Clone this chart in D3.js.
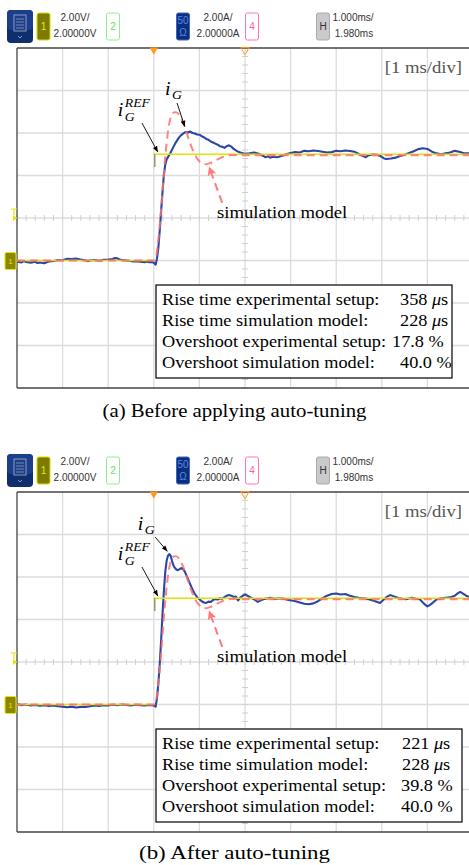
<!DOCTYPE html>
<html>
<head>
<meta charset="utf-8">
<script src="https://cdn.jsdelivr.net/npm/d3@7"></script>
<style>
  body { margin: 0; background: #fff; }
  svg { display: block; }
  text { font-family: "Liberation Serif", "Times New Roman", serif; }
  .hdr { font-family: "Liberation Sans", Arial, sans-serif; font-size: 10px; fill: #333; }
</style>
</head>
<body>
<svg id="chart" width="469" height="865"></svg>
<script>
// scope settings: 1 ms/div, 2 A/div, 10 x 8 divisions
const timeTicks = d3.range(-3, 8, 1);      // ms
const currentTicks = d3.range(-6, 11, 2);  // A

// reference current i_G^REF (step 0 -> 5 A at t = 0)
const refLow = [[-3, 0], [0, 0]];
const refHigh = [[0, 5], [7, 5]];

// simulation model response (same in both panels)
const simModel = [[-3, 0], [0, 0], [0.04, 0.1], [0.08, 0.6], [0.12, 1.4], [0.16, 2.4], [0.2, 3.5],
  [0.24, 4.6], [0.28, 5.5], [0.32, 6.2], [0.36, 6.65], [0.4, 6.88], [0.45, 6.98], [0.5, 6.97],
  [0.55, 6.88], [0.6, 6.7], [0.65, 6.45], [0.7, 6.15], [0.75, 5.82], [0.8, 5.5], [0.85, 5.22],
  [0.9, 4.99], [0.95, 4.8], [1.0, 4.67], [1.05, 4.58], [1.1, 4.54], [1.15, 4.53], [1.2, 4.56],
  [1.3, 4.64], [1.4, 4.76], [1.5, 4.86], [1.6, 4.93], [1.7, 4.97], [1.8, 4.96], [2.0, 4.95], [7, 4.95]];

// measured i_G before auto-tuning
const measuredBefore = [[-3.0, -0.05], [-2.9, -0.09], [-2.85, -0.03], [-2.8, -0.07], [-2.7, -0.1],
  [-2.6, -0.06], [-2.55, -0.12], [-2.5, -0.09], [-2.4, -0.13], [-2.35, -0.08], [-2.3, -0.05],
  [-2.2, -0.02], [-2.1, 0.02], [-2.0, 0.01], [-1.95, 0.05], [-1.9, 0.08], [-1.8, 0.07], [-1.7, 0.09],
  [-1.6, 0.04], [-1.5, 0.01], [-1.45, -0.03], [-1.4, 0.0], [-1.3, 0.02], [-1.2, -0.01], [-1.1, 0.03],
  [-1.0, 0.04], [-0.9, 0.07], [-0.85, 0.12], [-0.8, 0.1], [-0.75, 0.05], [-0.7, 0.03], [-0.6, 0.0],
  [-0.5, -0.02], [-0.45, -0.05], [-0.4, -0.03], [-0.3, -0.06], [-0.2, -0.08], [-0.15, -0.05],
  [-0.1, -0.08], [-0.05, -0.07], [0.0, -0.1], [0.04, -0.2], [0.07, 0.1], [0.1, 0.6], [0.13, 1.4],
  [0.16, 2.3], [0.19, 3.2], [0.22, 4.0], [0.25, 4.5], [0.28, 4.75], [0.32, 4.9], [0.36, 5.05],
  [0.42, 5.3], [0.48, 5.55], [0.55, 5.78], [0.6, 5.9], [0.65, 5.98], [0.7, 6.05], [0.75, 6.02],
  [0.8, 6.07], [0.85, 6.0], [0.9, 5.98], [0.95, 5.93], [1.0, 5.92], [1.05, 5.85], [1.1, 5.8],
  [1.15, 5.72], [1.2, 5.68], [1.25, 5.6], [1.3, 5.55], [1.35, 5.5], [1.4, 5.45], [1.45, 5.38],
  [1.5, 5.35], [1.55, 5.3], [1.6, 5.38], [1.65, 5.42], [1.7, 5.36], [1.75, 5.25], [1.8, 5.18],
  [1.85, 5.12], [1.9, 5.08], [1.95, 5.05], [2.0, 5.02], [2.1, 5.04], [2.2, 5.08], [2.3, 5.02],
  [2.4, 4.92], [2.45, 4.86], [2.5, 4.9], [2.55, 4.84], [2.6, 4.88], [2.7, 4.86], [2.8, 4.92],
  [2.9, 5.0], [3.0, 5.06], [3.1, 5.1], [3.2, 5.08], [3.3, 5.16], [3.4, 5.14], [3.5, 5.18],
  [3.6, 5.15], [3.7, 5.12], [3.8, 5.08], [3.9, 5.1], [4.0, 5.16], [4.1, 5.14], [4.2, 5.18],
  [4.3, 5.15], [4.4, 5.12], [4.5, 5.0], [4.6, 4.9], [4.65, 4.86], [4.7, 4.94], [4.8, 5.0],
  [4.9, 4.98], [5.0, 4.88], [5.05, 4.8], [5.1, 4.78], [5.2, 4.8], [5.3, 4.84], [5.4, 4.92],
  [5.5, 4.98], [5.6, 5.06], [5.7, 5.14], [5.8, 5.24], [5.9, 5.28], [6.0, 5.25], [6.1, 5.12],
  [6.2, 5.04], [6.3, 5.0], [6.4, 5.04], [6.5, 5.08], [6.6, 5.16], [6.7, 5.12], [6.8, 5.05],
  [6.9, 5.04], [7.0, 5.06]];

// measured i_G after auto-tuning
const measuredAfter = [[-3, 0.02], [-2.9, -0.03], [-2.8, 0.0], [-2.7, -0.05], [-2.6, -0.02],
  [-2.5, -0.06], [-2.4, -0.03], [-2.3, -0.07], [-2.2, -0.04], [-2.1, -0.08], [-2.0, -0.1],
  [-1.9, -0.13], [-1.8, -0.1], [-1.7, -0.14], [-1.6, -0.11], [-1.5, -0.12], [-1.4, -0.08],
  [-1.3, -0.05], [-1.2, -0.07], [-1.1, -0.03], [-1.0, -0.04], [-0.9, -0.01], [-0.8, -0.03],
  [-0.7, 0.0], [-0.6, -0.02], [-0.5, -0.04], [-0.4, -0.01], [-0.3, -0.03], [-0.2, -0.05],
  [-0.1, -0.02], [0.0, -0.05], [0.04, -0.1], [0.07, 0.3], [0.1, 1.0], [0.13, 1.9], [0.16, 3.0],
  [0.19, 4.2], [0.22, 5.3], [0.25, 6.2], [0.28, 6.75], [0.31, 7.0], [0.34, 7.08], [0.37, 7.0],
  [0.4, 6.75], [0.44, 6.5], [0.48, 6.38], [0.52, 6.32], [0.56, 6.36], [0.6, 6.42], [0.64, 6.38],
  [0.68, 6.25], [0.72, 6.05], [0.76, 5.85], [0.8, 5.65], [0.85, 5.4], [0.9, 5.2], [0.95, 5.05],
  [1.0, 4.95], [1.05, 4.86], [1.1, 4.8], [1.15, 4.78], [1.2, 4.84], [1.25, 4.82], [1.3, 4.92],
  [1.35, 4.96], [1.4, 4.94], [1.45, 5.0], [1.5, 4.98], [1.55, 5.05], [1.6, 5.12], [1.65, 5.15],
  [1.7, 5.12], [1.75, 5.06], [1.8, 5.08], [1.85, 4.9], [1.9, 5.04], [2.0, 5.18], [2.05, 5.12],
  [2.1, 5.06], [2.2, 4.95], [2.28, 4.83], [2.35, 4.9], [2.43, 4.97], [2.55, 5.02], [2.65, 4.97],
  [2.75, 5.0], [2.87, 4.97], [2.95, 4.92], [3.09, 4.87], [3.2, 4.8], [3.3, 4.74], [3.4, 4.72],
  [3.5, 4.76], [3.6, 4.86], [3.7, 5.0], [3.8, 5.12], [3.9, 5.2], [4.0, 5.22], [4.1, 5.18],
  [4.2, 5.2], [4.3, 5.12], [4.4, 5.06], [4.5, 5.02], [4.6, 5.0], [4.7, 4.96], [4.8, 4.9],
  [4.9, 4.82], [4.96, 4.78], [5.05, 4.95], [5.12, 5.08], [5.18, 5.15], [5.25, 5.1], [5.35, 5.02],
  [5.45, 4.98], [5.55, 4.96], [5.66, 5.02], [5.75, 4.98], [5.83, 4.96], [5.9, 4.8], [5.95, 4.7],
  [6.0, 4.62], [6.05, 4.68], [6.1, 4.76], [6.2, 4.94], [6.3, 5.0], [6.4, 5.02], [6.5, 5.04],
  [6.6, 5.12], [6.67, 5.24], [6.72, 5.3], [6.78, 5.22], [6.85, 5.12], [6.92, 5.06], [7.0, 5.04]];

const statLabels = ["Rise time experimental setup:", "Rise time simulation model:",
  "Overshoot experimental setup:", "Overshoot simulation model:"];
const statsBefore = [["358", "μ", "s"], ["228", "μ", "s"], ["17.8 %", "", ""], ["40.0 %", "", ""]];
const statsAfter = [["221", "μ", "s"], ["228", "μ", "s"], ["39.8 %", "", ""], ["40.0 %", "", ""]];
const captions = ["(a) Before applying auto-tuning", "(b) After auto-tuning"];
const scopeSettings = ["2.00V/", "2.00000V", "2.00A/", "2.00000A", "1.000ms/", "1.980ms"];

let SX = 1.1; // figure is stretched horizontally
const svg = d3.select("#chart");

const x = d3.scaleLinear().domain([-3, 7]).range([17, 473]);
const y = d3.scaleLinear().domain([-6, 10]).range([388, 48]);
const line = d3.line().x(d => x(d[0])).y(d => y(d[1]));
const smooth = d3.line().x(d => x(d[0])).y(d => y(d[1])).curve(d3.curveMonotoneX);

const defs = svg.append("defs");
defs.append("marker").attr("id", "blk").attr("viewBox", "0 0 10 10")
  .attr("refX", 10).attr("refY", 5).attr("markerWidth", 6).attr("markerHeight", 6)
  .attr("markerUnits", "userSpaceOnUse").attr("orient", "auto")
  .append("path").attr("d", "M0,1L10,5L0,9Z").attr("fill", "#000");
defs.append("marker").attr("id", "red").attr("viewBox", "0 0 10 10")
  .attr("refX", 10).attr("refY", 5).attr("markerWidth", 13).attr("markerHeight", 9)
  .attr("markerUnits", "userSpaceOnUse").attr("orient", "auto")
  .append("path").attr("d", "M0,0L10,5L0,10L2.5,5Z").attr("fill", "#ff7b7b");
defs.append("clipPath").attr("id", "plotclip").append("rect")
  .attr("x", 17).attr("y", 48).attr("width", 456).attr("height", 340);

function stext(g, px, py, str, size, opts = {}) {
  const t = g.append("text")
    .attr("transform", "translate(" + px + "," + py + ") scale(" + (opts.sx || SX) + ",1)")
    .attr("font-size", size)
    .attr("fill", opts.fill || "#000")
    .attr("text-anchor", opts.anchor || "start");
  if (opts.italic) t.attr("font-style", "italic");
  t.text(str);
  return t;
}

function drawHeader(g) {
  // menu icon
  g.append("rect").attr("x", 7).attr("y", 10).attr("width", 26).attr("height", 33).attr("rx", 4)
    .attr("fill", "#0e2e6e");
  g.append("rect").attr("x", 7).attr("y", 10).attr("width", 26).attr("height", 20).attr("rx", 4)
    .attr("fill", "#1c3f8c");
  g.append("rect").attr("x", 14).attr("y", 15).attr("width", 12).attr("height", 16)
    .attr("fill", "none").attr("stroke", "#8f9ab8").attr("stroke-width", 1);
  d3.range(4).forEach(i => g.append("line").attr("x1", 16).attr("x2", 24)
    .attr("y1", 19 + i * 3).attr("y2", 19 + i * 3).attr("stroke", "#8f9ab8").attr("stroke-width", 0.8));
  g.append("path").attr("d", "M18,36L20,38L22,36").attr("fill", "none").attr("stroke", "#8f9ab8");

  // channel boxes
  const box = (bx, fill, stroke, label, col) => {
    g.append("rect").attr("x", bx).attr("y", 13).attr("width", 13).attr("height", 27).attr("rx", 2)
      .attr("fill", fill).attr("stroke", stroke).attr("stroke-width", 1);
    g.append("text").attr("class", "hdr").attr("x", bx + 6.5).attr("y", 30)
      .attr("text-anchor", "middle").style("fill", col).text(label);
  };
  box(37, "#7d7a00", "#d9d900", "1", "#e6e600");
  box(106.5, "#fff", "#8fef8f", "2", "#6ad86a");
  g.append("rect").attr("x", 176.5).attr("y", 13).attr("width", 13).attr("height", 27).attr("rx", 2)
    .attr("fill", "#0c2f7c").attr("stroke", "#3a66c4");
  g.append("text").attr("class", "hdr").attr("x", 183).attr("y", 24).attr("text-anchor", "middle")
    .style("fill", "#5a88e6").text("50");
  g.append("text").attr("class", "hdr").attr("x", 183).attr("y", 36).attr("text-anchor", "middle")
    .style("fill", "#5a88e6").text("Ω");
  box(245.5, "#fff", "#ff70c0", "4", "#ff5ab0");
  box(316.5, "#cacaca", "#aaa", "H", "#333");

  const pos = [[75, 21], [75, 37], [218, 21], [218, 37], [353, 21], [354, 37]];
  scopeSettings.forEach((s, i) => {
    g.append("text").attr("class", "hdr").attr("x", pos[i][0]).attr("y", pos[i][1])
      .attr("text-anchor", "middle").text(s);
  });
}

function drawPanel(dy, measured, stats, caption, labelsG, boxW, valueX) {
  const g = svg.append("g").attr("transform", "translate(0," + dy + ")");
  drawHeader(g);

  // grid
  g.append("g").selectAll("line").data(timeTicks.slice(1)).join("line")
    .attr("x1", d => x(d)).attr("x2", d => x(d)).attr("y1", y(-6)).attr("y2", y(10))
    .attr("stroke", "#dcdcdc").attr("stroke-width", 1.3);
  g.append("g").selectAll("line").data(currentTicks.slice(1, -1)).join("line")
    .attr("x1", x(-3)).attr("x2", 469).attr("y1", d => y(d)).attr("y2", d => y(d))
    .attr("stroke", "#dcdcdc").attr("stroke-width", 1.3);
  // minor ticks on the centre axes
  g.append("g").selectAll("line").data(d3.range(-3, 7.01, 0.2)).join("line")
    .attr("x1", d => x(d)).attr("x2", d => x(d)).attr("y1", y(2) - 3).attr("y2", y(2) + 3)
    .attr("stroke", "#d0d0d0");
  g.append("g").selectAll("line").data(d3.range(-6, 10.01, 0.4)).join("line")
    .attr("x1", x(2) - 3).attr("x2", x(2) + 3).attr("y1", d => y(d)).attr("y2", d => y(d))
    .attr("stroke", "#d0d0d0");

  // borders
  g.append("line").attr("x1", x(-3)).attr("x2", 469).attr("y1", y(10)).attr("y2", y(10))
    .attr("stroke", "#444").attr("stroke-width", 1.3);
  g.append("line").attr("x1", x(-3)).attr("x2", 469).attr("y1", y(-6)).attr("y2", y(-6))
    .attr("stroke", "#444").attr("stroke-width", 1.3);
  g.append("line").attr("x1", x(-3)).attr("x2", x(-3)).attr("y1", y(10)).attr("y2", y(-6))
    .attr("stroke", "#444").attr("stroke-width", 1.3);

  // trigger / delay markers
  g.append("path").attr("d", d3.symbol(d3.symbolTriangle, 30)())
    .attr("transform", "translate(" + x(0) + "," + (y(10) + 2) + ") rotate(180)").attr("fill", "#ff9a1a");
  g.append("path").attr("d", d3.symbol(d3.symbolTriangle, 30)())
    .attr("transform", "translate(" + x(2) + "," + (y(10) + 2) + ") rotate(180)")
    .attr("fill", "none").attr("stroke", "#ff9a1a");
  // trigger level marker
  g.append("path").attr("d", "M11," + (y(2) - 9) + "H17M14," + (y(2) - 9) + "V" + (y(2) - 3))
    .attr("stroke", "#e6e600").attr("stroke-width", 1.2).attr("fill", "none");
  g.append("path").attr("d", "M13," + (y(2) - 3) + "L17.5," + y(2) + "L13," + (y(2) + 3) + "Z")
    .attr("fill", "#e6e600");
  // ground marker channel 1
  g.append("rect").attr("x", 5).attr("y", y(0) - 8).attr("width", 11).attr("height", 17).attr("rx", 1.5)
    .attr("fill", "#8a8600").attr("stroke", "#e6e600");
  g.append("text").attr("class", "hdr").attr("x", 10.5).attr("y", y(0) + 3).attr("text-anchor", "middle")
    .style("font-size", "8px").style("fill", "#e6e600").text("1");

  // traces
  const tr = g.append("g").attr("clip-path", "url(#plotclip)");
  tr.append("path").datum(measured).attr("d", line).attr("fill", "none")
    .attr("stroke", "#2a46a8").attr("stroke-width", 2.1).attr("stroke-linejoin", "round");
  tr.append("path").datum(refLow).attr("d", line).attr("fill", "none")
    .attr("stroke", "#e2e200").attr("stroke-width", 1.6);
  tr.append("path").datum(refHigh).attr("d", line).attr("fill", "none")
    .attr("stroke", "#e2e200").attr("stroke-width", 1.6);
  tr.append("line").attr("x1", x(0) + 1).attr("x2", x(0) + 1).attr("y1", y(5)).attr("y2", y(4.4))
    .attr("stroke", "#8a8a50").attr("stroke-width", 1.3);
  tr.append("path").datum(simModel).attr("d", smooth).attr("fill", "none")
    .attr("stroke", "#ff6f6f").attr("stroke-opacity", 0.85).attr("stroke-width", 2)
    .attr("stroke-dasharray", "8,5");

  // annotations
  stext(g, x(6.76), y(8.82), "[1 ms/div]", 17, { anchor: "end", fill: "#555" });

  const iG = labelsG.iG;
  stext(g, x(iG[0]), y(iG[1]), "i", 18, { italic: true });
  stext(g, x(iG[0]) + 7, y(iG[1]) + 4, "G", 12.5, { italic: true });
  g.append("line").attr("x1", x(iG[2])).attr("y1", y(iG[3])).attr("x2", x(iG[4])).attr("y2", y(iG[5]))
    .attr("stroke", "#000").attr("stroke-width", 0.9).attr("marker-end", "url(#blk)");

  stext(g, x(-0.79), y(6.8), "i", 18, { italic: true });
  stext(g, x(-0.79) + 7, y(6.8) + 5, "G", 12.5, { italic: true });
  stext(g, x(-0.79) + 7, y(6.8) - 9, "REF", 12.5, { italic: true });
  g.append("line").attr("x1", x(-0.26)).attr("y1", y(6.47)).attr("x2", x(0.09)).attr("y2", y(5.1))
    .attr("stroke", "#000").attr("stroke-width", 0.9).attr("marker-end", "url(#blk)");

  stext(g, x(1.386), y(2.0), "simulation model", 17);
  g.append("line").attr("x1", x(1.5)).attr("y1", y(2.71)).attr("x2", x(1.21)).attr("y2", y(4.42))
    .attr("stroke", "#ff7b7b").attr("stroke-width", 2).attr("stroke-dasharray", "8,5")
    .attr("marker-end", "url(#red)");

  // stats box
  g.append("rect").attr("x", 156).attr("y", 285).attr("width", boxW).attr("height", 93)
    .attr("fill", "#fff").attr("stroke", "#000").attr("stroke-width", 1.2);
  statLabels.forEach((s, i) => {
    const by = 304.5 + i * 21.3;
    stext(g, 162, by, s, 17, { sx: 1.075 });
    const t = stext(g, valueX[i], by, "", 17, { sx: 1.075 });
    t.append("tspan").text(stats[i][0]);
    if (stats[i][1]) {
      t.append("tspan").text(" ");
      t.append("tspan").attr("font-style", "italic").text(stats[i][1]);
      t.append("tspan").text(stats[i][2]);
    }
  });

  // caption
  g.append("text").attr("x", 234.5).attr("y", dy === 0 ? 417 : 415).attr("text-anchor", "middle")
    .attr("font-size", 18.5).attr("textLength", dy === 0 ? 264 : 191)
    .attr("lengthAdjust", "spacingAndGlyphs").text(caption);
}

drawPanel(0, measuredBefore, statsBefore, captions[0],
  { iG: [0.246, 7.79, 0.51, 7.41, 0.68, 6.3] }, 296, [400, 400, 392, 400]);
drawPanel(444, measuredAfter, statsAfter, captions[1],
  { iG: [-0.35, 8.21, 0.03, 7.88, 0.3, 7.2] }, 306, [402, 402, 401, 401]);
</script>
</body>
</html>
